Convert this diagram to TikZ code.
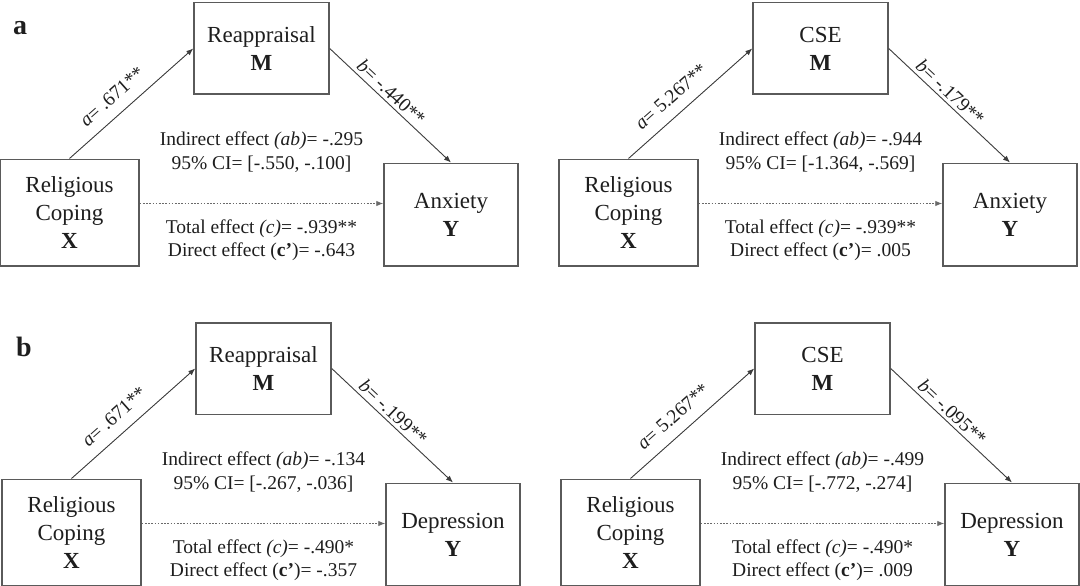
\documentclass[tikz,border=0pt]{standalone}
\usepackage{fontspec}
\setmainfont{Liberation Serif}
\usetikzlibrary{arrows.meta}
\definecolor{textc}{HTML}{1E1E1E}
\definecolor{boxgray}{HTML}{5A5A5A}
\definecolor{linegray}{HTML}{3C3C3C}
\definecolor{dotgray}{HTML}{6A6A6A}
\begin{document}
\begin{tikzpicture}[x=1pt,y=-1pt,
  every node/.style={text=textc, font={\fontsize{23}{28}\selectfont}},
  boxbase/.style={draw=boxgray, line width=1.5pt, align=center, inner sep=0pt},
  mbox/.style={boxbase, minimum width=135pt, minimum height=91.5pt},
  xbox/.style={boxbase, minimum width=139pt, minimum height=106.5pt},
  ybox/.style={boxbase, minimum width=134pt, minimum height=102.5pt},
  path/.style={draw=linegray, line width=0.9pt, -{Latex[length=7pt,width=5.5pt]}},
  dirpath/.style={draw=dotgray, line width=0.9pt, dash pattern=on 1.6pt off 1.6pt, -{Latex[length=7pt,width=5.5pt]}},
  alab/.style={sloped, above=8pt, pos=0.44, inner sep=3pt, font={\fontsize{19.5}{22}\selectfont}},
  blab/.style={sloped, above=0pt, pos=0.45, inner sep=3pt, font={\fontsize{19.5}{22}\selectfont}},
  effa/.style={align=center, font={\fontsize{19.5}{24}\selectfont}},
  effb/.style={align=center, font={\fontsize{19.5}{23.5}\selectfont}},
  panlab/.style={anchor=base west, font={\fontsize{28}{30}\selectfont\bfseries}}
]
\useasboundingbox (0,0) rectangle (1080,586);
\fill[white] (0,0) rectangle (1080,586);
\clip (0,0) rectangle (1080,586);

\node[panlab] (la) at (9.5,35) {a};
\node[panlab] (lb) at (12.5,356) {b};

% ---------- panel a, left ----------
\begin{scope}[shift={(0,0)}]
\node[mbox] (aLM) at (261.5,48.5) {Reappraisal\\\textbf{M}};
\node[xbox] (aLX) at (69.5,212.5) {Religious\\Coping\\\textbf{X}};
\node[ybox] (aLY) at (451,214.5) {Anxiety\\\textbf{Y}};
\draw[path] (aLX.north) -- node[alab] {\textit{a}= .671**} (aLM.west);
\draw[path] (aLM.east) -- node[blab] {\textit{b}= -.440**} (aLY.north);
\draw[dirpath] ([yshift=9pt]aLX.east) -- ([yshift=9pt]aLX.east -| aLY.west);
\node[effa] (aLi) at (261.5,152.5) {Indirect effect \textit{(ab)}= -.295\\95\% CI= [-.550, -.100]};
\node[effb] (aLt) at (261.5,240) {Total effect \textit{(c)}= -.939**\\Direct effect (\textbf{c’})= -.643};
\end{scope}

% ---------- panel a, right ----------
\begin{scope}[shift={(559,0)}]
\node[mbox] (aRM) at (261.5,48.5) {CSE\\\textbf{M}};
\node[xbox] (aRX) at (69.5,212.5) {Religious\\Coping\\\textbf{X}};
\node[ybox] (aRY) at (451,214.5) {Anxiety\\\textbf{Y}};
\draw[path] (aRX.north) -- node[alab] {\textit{a}= 5.267**} (aRM.west);
\draw[path] (aRM.east) -- node[blab] {\textit{b}= -.179**} (aRY.north);
\draw[dirpath] ([yshift=9pt]aRX.east) -- ([yshift=9pt]aRX.east -| aRY.west);
\node[effa] (aRi) at (261.5,152.5) {Indirect effect \textit{(ab)}= -.944\\95\% CI= [-1.364, -.569]};
\node[effb] (aRt) at (261.5,240) {Total effect \textit{(c)}= -.939**\\Direct effect (\textbf{c’})= .005};
\end{scope}

% ---------- panel b, left ----------
\begin{scope}[shift={(2,320)}]
\node[mbox] (bLM) at (261.5,48.5) {Reappraisal\\\textbf{M}};
\node[xbox] (bLX) at (69.5,212.5) {Religious\\Coping\\\textbf{X}};
\node[ybox] (bLY) at (451,214.5) {Depression\\\textbf{Y}};
\draw[path] (bLX.north) -- node[alab] {\textit{a}= .671**} (bLM.west);
\draw[path] (bLM.east) -- node[blab] {\textit{b}= -.199**} (bLY.north);
\draw[dirpath] ([yshift=9pt]bLX.east) -- ([yshift=9pt]bLX.east -| bLY.west);
\node[effa] (bLi) at (261.5,152.5) {Indirect effect \textit{(ab)}= -.134\\95\% CI= [-.267, -.036]};
\node[effb] (bLt) at (261.5,240) {Total effect \textit{(c)}= -.490*\\Direct effect (\textbf{c’})= -.357};
\end{scope}

% ---------- panel b, right ----------
\begin{scope}[shift={(561,320)}]
\node[mbox] (bRM) at (261.5,48.5) {CSE\\\textbf{M}};
\node[xbox] (bRX) at (69.5,212.5) {Religious\\Coping\\\textbf{X}};
\node[ybox] (bRY) at (451,214.5) {Depression\\\textbf{Y}};
\draw[path] (bRX.north) -- node[alab] {\textit{a}= 5.267**} (bRM.west);
\draw[path] (bRM.east) -- node[blab] {\textit{b}= -.095**} (bRY.north);
\draw[dirpath] ([yshift=9pt]bRX.east) -- ([yshift=9pt]bRX.east -| bRY.west);
\node[effa] (bRi) at (261.5,152.5) {Indirect effect \textit{(ab)}= -.499\\95\% CI= [-.772, -.274]};
\node[effb] (bRt) at (261.5,240) {Total effect \textit{(c)}= -.490*\\Direct effect (\textbf{c’})= .009};
\end{scope}
\end{tikzpicture}
\end{document}
